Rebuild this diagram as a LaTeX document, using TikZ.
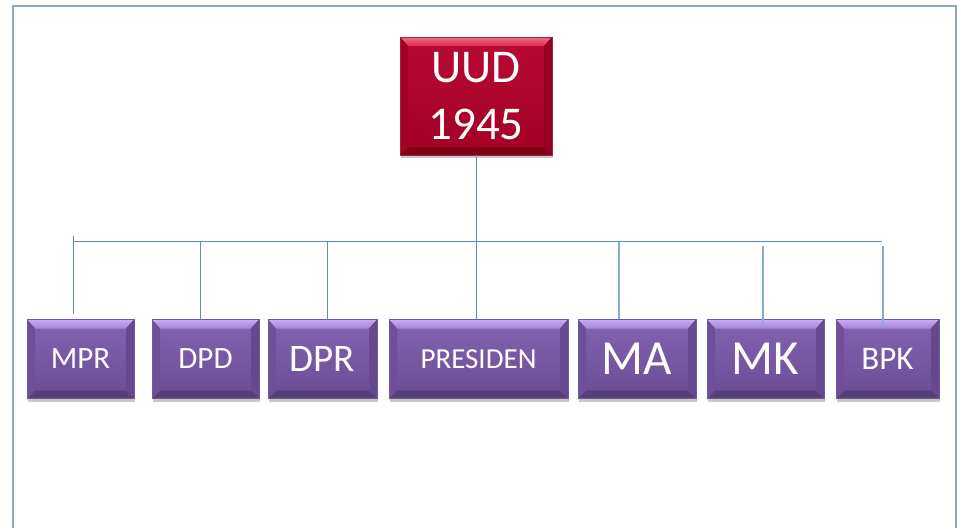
\documentclass[tikz,border=0pt]{standalone}
\usepackage{fontspec}
\setmainfont{Carlito}
\usetikzlibrary{shadows}
\definecolor{frameblue}{HTML}{8EA4C8}
\definecolor{linkblue}{HTML}{5B8BC8}
\definecolor{linkblue2}{HTML}{8AAAD6}
\definecolor{pfacetop}{HTML}{8463B2}
\definecolor{pfacebot}{HTML}{6A4C94}
\definecolor{ptop}{HTML}{A384D4}
\definecolor{ptopedge}{HTML}{C8AAF6}
\definecolor{pbot}{HTML}{56407C}
\definecolor{pside}{HTML}{6E4F9C}
\definecolor{rfacetop}{HTML}{B80A32}
\definecolor{rfacebot}{HTML}{A20024}
\definecolor{rtop}{HTML}{D8304E}
\definecolor{rtopedge}{HTML}{F26A84}
\definecolor{rbot}{HTML}{80001A}
\definecolor{rside}{HTML}{A30026}
\tikzset{
  x=1pt, y=-1pt,
  bevelbox/.style n args={6}{% facetop, facebot, topedge, top, bottom, side
    top color=#1, bottom color=#2, draw=#2!70!gray, line width=0.6pt,
    drop shadow={shadow xshift=1pt, shadow yshift=-3pt, opacity=0.22, fill=black},
    text=white, inner sep=0pt,
    path picture={
      \coordinate (bnw) at (path picture bounding box.north west);
      \coordinate (bne) at (path picture bounding box.north east);
      \coordinate (bsw) at (path picture bounding box.south west);
      \coordinate (bse) at (path picture bounding box.south east);
      \shade[top color=#3, bottom color=#4] (bnw) -- (bne) -- ([xshift=-8pt,yshift=-9pt]bne) -- ([xshift=8pt,yshift=-9pt]bnw) -- cycle;
      \fill[#5] (bsw) -- (bse) -- ([xshift=-8pt,yshift=8pt]bse) -- ([xshift=8pt,yshift=8pt]bsw) -- cycle;
      \fill[#6] (bnw) -- ([xshift=8pt,yshift=-9pt]bnw) -- ([xshift=8pt,yshift=8pt]bsw) -- (bsw) -- cycle;
      \fill[#6!92!black] (bne) -- ([xshift=-8pt,yshift=-9pt]bne) -- ([xshift=-8pt,yshift=8pt]bse) -- (bse) -- cycle;
    }
  },
  purplebox/.style={bevelbox={pfacetop}{pfacebot}{ptopedge}{ptop}{pbot}{pside}, minimum height=79pt},
  redbox/.style={bevelbox={rfacetop}{rfacebot}{rtopedge}{rtop}{rbot}{rside}},
  link/.style={draw=linkblue, line width=0.9pt},
  linkb/.style={draw=linkblue2, line width=1.3pt},
}
\begin{document}
\begin{tikzpicture}
\useasboundingbox (0,0) rectangle (961,528);
\fill[white] (0,0) rectangle (961,528);
% frame
\draw[frameblue, line width=2pt] (13,528) -- (13,6) -- (956,6) -- (956,528);

% free ends of connectors
\coordinate (barL) at (73,241);
\coordinate (barR) at (882,241);
\coordinate (mprT) at (73,236);
\coordinate (mprB) at (73,314);
\coordinate (dpdT) at (200,241);
\coordinate (dprT) at (327,241);
\coordinate (maT) at (619,241);
\coordinate (mkT) at (763,246);
\coordinate (mkB) at (763,324);
\coordinate (bpkT) at (883,246);
\coordinate (bpkB) at (883,324);

\node[redbox, minimum width=152pt, minimum height=118pt, align=center,
      font=\fontsize{47}{57}\selectfont] (uud) at (476,96) {UUD\\1945};

\node[purplebox, minimum width=107pt, font=\fontsize{31}{36}\selectfont] (mpr) at (80.5,359) {MPR};
\node[purplebox, minimum width=107pt, font=\fontsize{31}{36}\selectfont] (dpd) at (205.5,359) {DPD};
\node[purplebox, minimum width=109pt, font=\fontsize{39}{44}\selectfont] (dpr) at (322.5,359) {DPR};
\node[purplebox, minimum width=179pt, font=\fontsize{29}{34}\selectfont] (pres) at (478.5,359) {PRESIDEN};
\node[purplebox, minimum width=118pt, font=\fontsize{49}{54}\selectfont] (ma) at (637,359) {MA};
\node[purplebox, minimum width=117pt, font=\fontsize{49}{54}\selectfont] (mk) at (765.5,359) {MK};
\node[purplebox, minimum width=103pt, font=\fontsize{33}{38}\selectfont] (bpk) at (887.5,359) {BPK};

\draw[link] (uud.south -| 476.7,0) -- (476.7,0 |- pres.north);
\draw[link] (barL) -- (barR);
\draw[link] (mprT) -- (mprB);
\draw[link] (dpdT) -- (dpdT |- dpd.north);
\draw[link] (dprT) -- (dprT |- dpr.north);
\draw[linkb] (maT) -- (maT |- ma.north);
\draw[linkb] (mkT) -- (mkB);
\draw[linkb] (bpkT) -- (bpkB);
\end{tikzpicture}
\end{document}
